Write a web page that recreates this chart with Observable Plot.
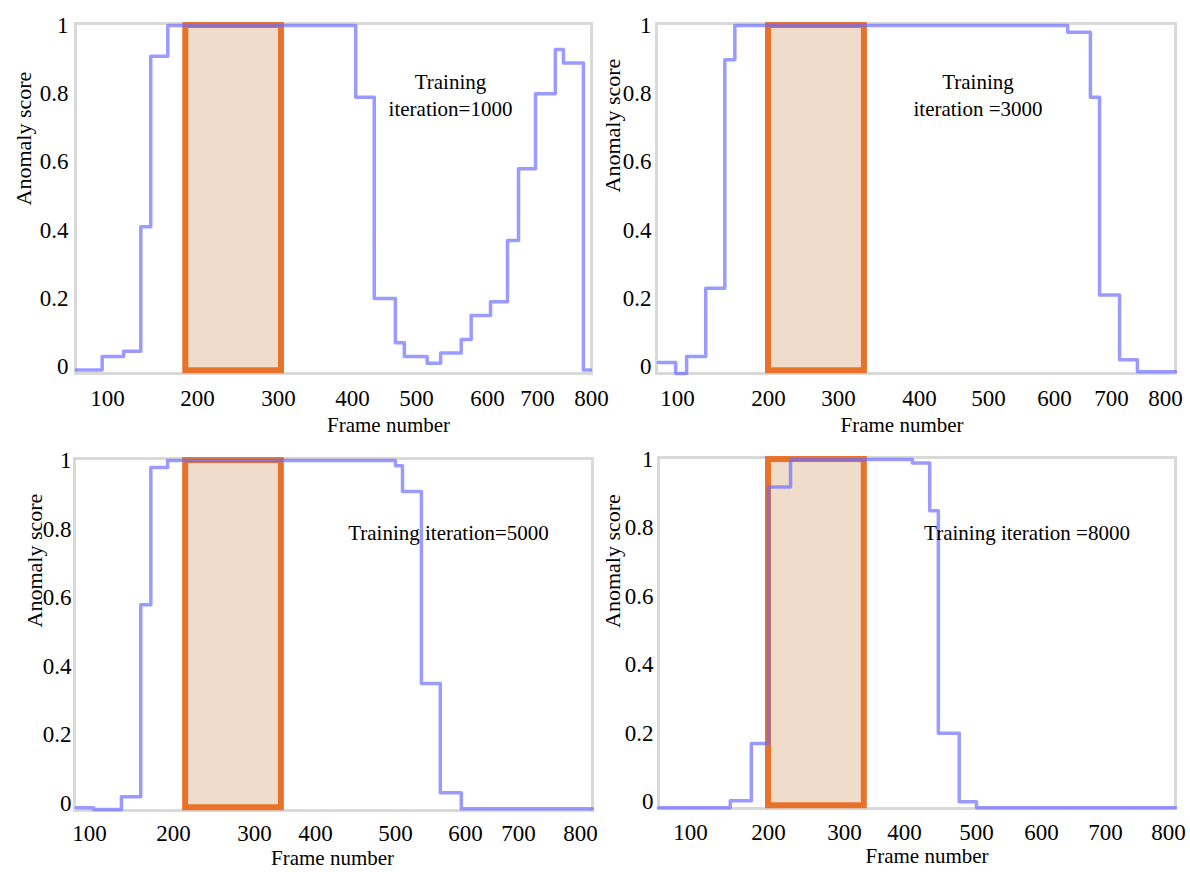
<!DOCTYPE html>
<html>
<head>
<meta charset="utf-8">
<script src="https://cdn.jsdelivr.net/npm/d3@7"></script>
<script src="https://cdn.jsdelivr.net/npm/@observablehq/plot@0.6"></script>
<style>
  html, body { margin: 0; padding: 0; background: #fff; }
  #wrap { position: relative; width: 1190px; height: 872px; overflow: hidden; font-family: "Liberation Serif", "Times New Roman", serif; }
  #wrap svg { position: absolute; overflow: visible; background: transparent !important; font-family: "Liberation Serif", "Times New Roman", serif !important; font-size: 23px; }
  #wrap svg text { font-family: "Liberation Serif", "Times New Roman", serif !important; font-variant: normal !important; }
</style>
</head>
<body>
<div id="wrap"></div>
<script>
// ---------------- data ----------------
const xTicks = [100, 200, 300, 400, 500, 600, 700, 800];
const yTicks = [0, 0.2, 0.4, 0.6, 0.8, 1];
const xAxisTitle = "Frame number";
const yAxisTitle = "Anomaly score";
const panelLabels = [
  "Training\niteration=1000",
  "Training\niteration =3000",
  "Training iteration=5000",
  "Training iteration =8000"
];

// step-after anomaly score curves (frame where the level starts, score)
const frames1000 = [65, 94, 118, 137, 148, 167, 405, 434, 467, 481, 515, 534, 563, 577, 606, 640, 662, 696, 733, 748, 785, 798];
const scores1000 = [-0.01, 0.03, 0.045, 0.41, 0.91, 1.0, 0.79, 0.2, 0.07, 0.03, 0.01, 0.04, 0.08, 0.15, 0.19, 0.37, 0.58, 0.8, 0.93, 0.89, -0.01, -0.01];

const frames3000 = [79, 98, 110, 131, 152, 163, 623, 663, 679, 715, 748, 818];
const scores3000 = [0.012, -0.02, 0.03, 0.23, 0.9, 1.0, 0.98, 0.79, 0.21, 0.02, -0.015, -0.015];

const frames5000 = [84, 105, 138, 161, 173, 193, 500, 510, 537, 564, 594, 819];
const scores5000 = [-0.012, -0.017, 0.02, 0.58, 0.98, 1.0, 0.985, 0.91, 0.35, 0.032, -0.015, -0.015];

const frames8000 = [59, 151, 178, 200, 229, 411, 435, 447, 476, 500, 811];
const scores8000 = [-0.018, 0.003, 0.17, 0.92, 1.0, 0.99, 0.85, 0.2, 0.0, -0.018, -0.018];

// ground-truth anomalous interval (frames) per panel
const anomalyStart = [187, 200, 215, 200];
const anomalyEnd = [304, 332, 344, 333];
const anomalyLow = -0.012;
const anomalyHigh = 1.0;

const frames = [frames1000, frames3000, frames5000, frames8000];
const scores = [scores1000, scores3000, scores5000, scores8000];

// ---------------- layout (positions, sizes) ----------------
// the figure's x labels are irregularly spaced; a piecewise scale reproduces it
const layout = [
  { left: 0, top: 0, width: 595, height: 440, mL: 75, mR: 4, mT: 23, mB: 67,
    xDomain: [64, 100, 200, 300, 400, 500, 600, 700, 800],
    xRange: [75, 107, 197, 278, 352, 416, 487, 537, 591],
    xPad: 16, yPad: 7, lab: [117, 46], xt: [55, 58], yt: [-52, 7] },
  { left: 595, top: 0, width: 595, height: 440, mL: 61, mR: 15, mT: 23, mB: 67,
    xDomain: [77, 100, 200, 300, 400, 500, 600, 700, 800, 818],
    xRange: [61, 82, 173, 243, 324, 393, 459, 516, 570, 580],
    xPad: 16, yPad: 5, lab: [62, 46], xt: [-14, 58], yt: [-44, -6] },
  { left: 0, top: 440, width: 595, height: 432, mL: 74, mR: 3, mT: 18, mB: 62,
    xDomain: [82, 100, 200, 300, 400, 500, 600, 700, 800, 819],
    xRange: [74, 89, 173, 254, 315, 395, 465, 518, 580, 592],
    xPad: 14, yPad: 3, lab: [115, 62], xt: [-1, 54], yt: [-40, -7] },
  { left: 595, top: 440, width: 595, height: 432, mL: 63, mR: 15, mT: 17, mB: 64,
    xDomain: [59, 100, 200, 300, 400, 500, 600, 700, 800, 811],
    xRange: [63, 95, 173, 249, 309, 381, 446, 510, 573, 580],
    xPad: 15, yPad: 5, lab: [110, 63], xt: [10, 54], yt: [-46, -5] }
];

const wrap = document.getElementById("wrap");
const fmt = d => String(d);

layout.forEach((L, i) => {
  const data = frames[i].map((f, j) => ({ frame: f, score: scores[i][j] }));
  const box = [{ x1: anomalyStart[i], x2: anomalyEnd[i], y1: anomalyLow, y2: anomalyHigh }];
  const svg = Plot.plot({
    width: L.width,
    height: L.height,
    marginLeft: L.mL, marginRight: L.mR, marginTop: L.mT, marginBottom: L.mB,
    style: "font-family: 'Liberation Serif', serif; font-size: 23px; color: #000; background: transparent; overflow: visible;",
    x: { type: "linear", domain: L.xDomain, range: L.xRange, ticks: xTicks, tickFormat: fmt, tickSize: 0, tickPadding: L.xPad, label: null },
    y: { domain: [-0.02, 1.006], ticks: yTicks, tickFormat: fmt, tickSize: 0, tickPadding: L.yPad, label: null },
    marks: [
      Plot.frame({ stroke: "#d9d9d9", strokeWidth: 3 }),
      Plot.rect(box, { x1: "x1", x2: "x2", y1: "y1", y2: "y2", fill: "#f0dccb", stroke: "#e8722a", strokeWidth: 6 }),
      Plot.line(data, { x: "frame", y: "score", curve: "step-after", stroke: "#6a6aff", strokeOpacity: 0.68, strokeWidth: 3.5 }),
      Plot.text([panelLabels[i]], { text: d => d, frameAnchor: "top", dx: L.lab[0], dy: L.lab[1], fontSize: 21, lineHeight: 1.3, fill: "#000" }),
      Plot.text([xAxisTitle], { text: d => d, frameAnchor: "bottom", dx: L.xt[0], dy: L.xt[1], fontSize: 21, fill: "#000" }),
      Plot.text([yAxisTitle], { text: d => d, frameAnchor: "left", rotate: -90, dx: L.yt[0], dy: L.yt[1], fontSize: 22, fill: "#000" })
    ]
  });
  svg.style.left = L.left + "px";
  svg.style.top = L.top + "px";
  wrap.appendChild(svg);
});
</script>
</body>
</html>
